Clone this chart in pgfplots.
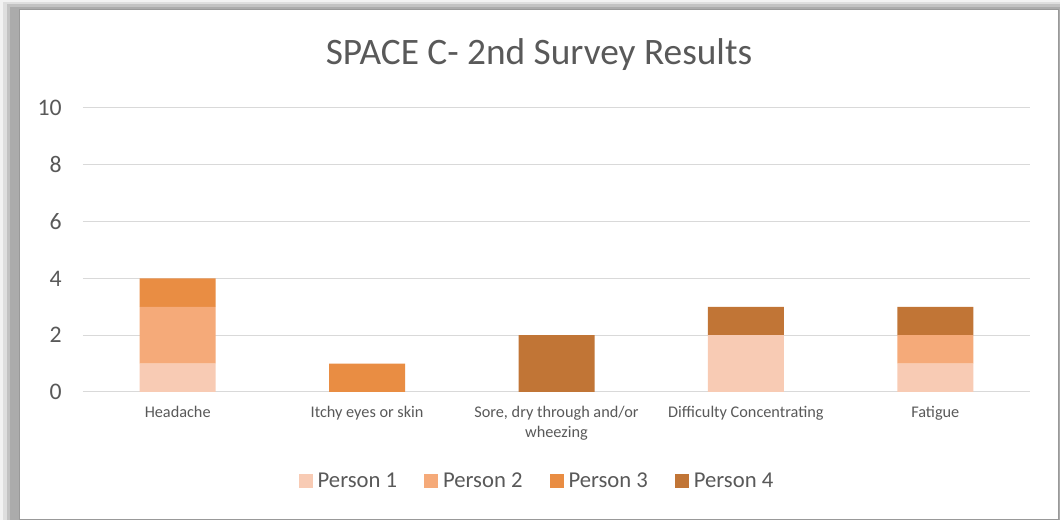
\documentclass[border=0pt]{standalone}
\usepackage{pgfplots}
\pgfplotsset{compat=1.18}
\usepackage{fontspec}
\setmainfont{Carlito}

\definecolor{pone}{HTML}{F8CBB4}
\definecolor{ptwo}{HTML}{F5AA79}
\definecolor{pthree}{HTML}{E98D43}
\definecolor{pfour}{HTML}{C17536}
\definecolor{txt}{HTML}{595959}
\definecolor{gridc}{HTML}{D9D9D9}

\begin{document}
\begin{tikzpicture}
% frame with shadow (1px = 0.75pt)
\useasboundingbox (0,0) rectangle (795pt,390pt);
\fill[black!5] (0,0) rectangle (795pt,390pt);
\fill[black!13] (2.25pt,0) rectangle (795pt,388.5pt);
\fill[black!24] (5.25pt,0) rectangle (795pt,387pt);
\fill[black!33] (7.5pt,0) rectangle (795pt,385pt);
\fill[white, draw=black!40, line width=0.75pt] (14.25pt,0.4pt) rectangle (794.2pt,383pt);

\node[anchor=base, text=txt, font=\fontsize{28}{32}\selectfont] at (404.25pt,341.25pt) {SPACE C- 2nd Survey Results};

\begin{axis}[
    at={(62.25pt,96pt)}, anchor=south west,
    scale only axis,
    width=710.25pt, height=213pt,
    ybar stacked,
    bar width=57pt,
    xmin=-0.5, xmax=4.5,
    ymin=0, ymax=10,
    ytick={0,2,...,10},
    xtick={0,1,2,3,4},
    xticklabels={Headache, Itchy eyes or skin, {Sore, dry through and/or\\wheezing}, Difficulty Concentrating, Fatigue},
    axis line style={draw=none},
    major tick length=0pt,
    ymajorgrids,
    grid style={gridc, line width=0.75pt},
    /pgf/number format/assume math mode=true,
    yticklabel style={text=txt, font=\fontsize{17.8}{20}\selectfont, anchor=east, inner sep=0pt, xshift=-15.75pt},
    xticklabel style={text=txt, font=\fontsize{12.2}{15}\selectfont, anchor=north, inner sep=0pt, yshift=-10.5pt, align=center},
    legend columns=4,
    legend style={at={(0.481,-0.313)}, anchor=center, draw=none, fill=none,
        font=\fontsize{17}{20}\selectfont, text=txt,
        nodes={inner xsep=3.75pt, inner ysep=2pt},
        /tikz/every even column/.append style={column sep=16.5pt}},
    legend image code/.code={\fill[#1] (0pt,-5.25pt) rectangle (10.5pt,5.25pt);},
]
\addplot[fill=pone, draw=none] coordinates {(0,1) (1,0) (2,0) (3,2) (4,1)};
\addplot[fill=ptwo, draw=none] coordinates {(0,2) (1,0) (2,0) (3,0) (4,1)};
\addplot[fill=pthree, draw=none] coordinates {(0,1) (1,1) (2,0) (3,0) (4,0)};
\addplot[fill=pfour, draw=none] coordinates {(0,0) (1,0) (2,2) (3,1) (4,1)};
\legend{Person 1, Person 2, Person 3, Person 4}
\end{axis}
\end{tikzpicture}
\end{document}
